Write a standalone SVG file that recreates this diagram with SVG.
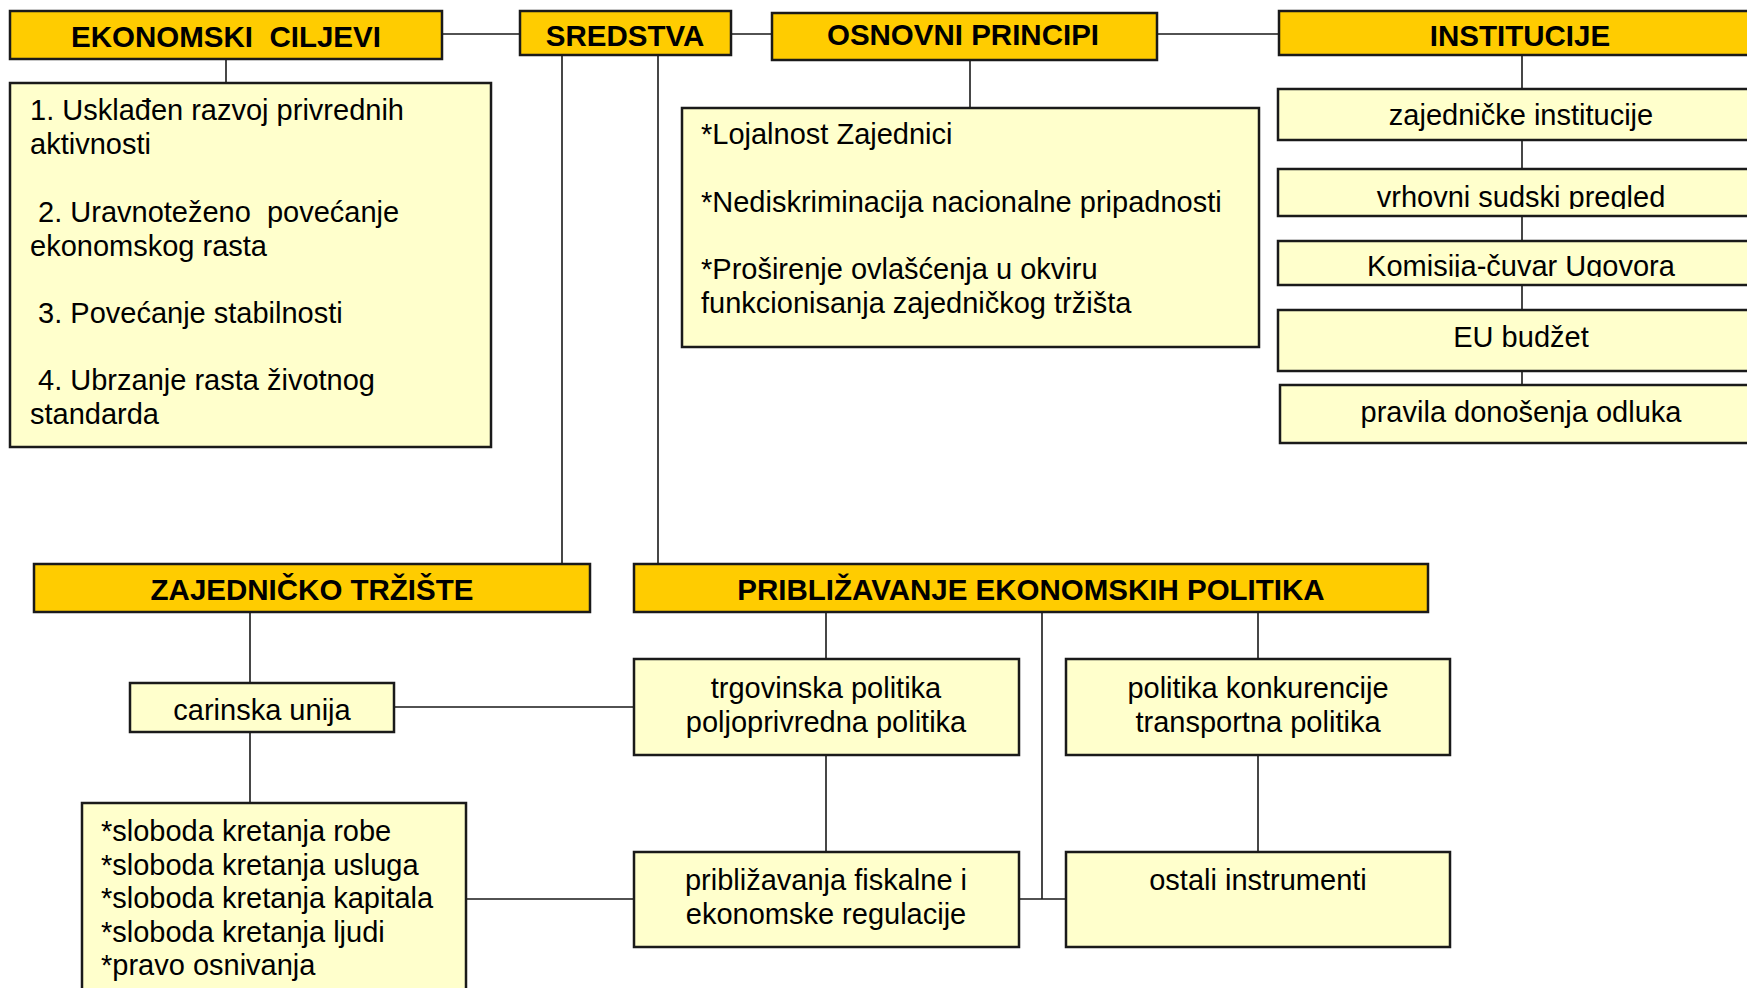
<svg xmlns="http://www.w3.org/2000/svg" width="1747" height="988" viewBox="0 0 1747 988">
<style>
.h{fill:#FFCC00;stroke:#1a1a1a;stroke-width:2.5}
.b{fill:#FFFFCC;stroke:#1a1a1a;stroke-width:2.5}
.c{stroke:#1a1a1a;stroke-width:1.6;fill:none}
text{font-family:"Liberation Sans",Arial,sans-serif;font-size:29px;fill:#000;white-space:pre}
.ht{font-weight:bold;text-anchor:middle;font-size:29.5px}
.m{text-anchor:middle}
</style>
<defs>
<clipPath id="cv"><rect x="1278" y="169" width="480" height="40"/></clipPath>
<clipPath id="ck"><rect x="1278" y="241" width="480" height="36"/></clipPath>
</defs>
<rect width="1747" height="988" fill="#fff"/>
<g id="connectors">
<path class="c" d="M442 34H520M731 34H772M1157 34H1279"/>
<path class="c" d="M226 59V83"/>
<path class="c" d="M562 55V564M658 55V564"/>
<path class="c" d="M970 60V108"/>
<path class="c" d="M1522 55V89M1522 139V169M1522 216V241M1522 285V310M1522 371V385"/>
<path class="c" d="M250 612V683M250 732V803"/>
<path class="c" d="M395 707H634M466 899H634"/>
<path class="c" d="M826 612V659M826 755V852M1258 612V659M1258 755V852M1042 612V899M1019 899H1066"/>
</g>
<g id="ekonomski-ciljevi"><rect class="h" x="10" y="11" width="432" height="48"/><text class="ht" x="226" y="47" xml:space="preserve">EKONOMSKI  CILJEVI</text></g>
<g id="sredstva"><rect class="h" x="520" y="11" width="211" height="44"/><text class="ht" x="625" y="46">SREDSTVA</text></g>
<g id="osnovni-principi"><rect class="h" x="772" y="13" width="385" height="47"/><text class="ht" x="963" y="45">OSNOVNI PRINCIPI</text></g>
<g id="institucije"><rect class="h" x="1279" y="11" width="480" height="44"/><text class="ht" x="1520" y="46">INSTITUCIJE</text></g>
<g id="ciljevi-lista"><rect class="b" x="10" y="83" width="481" height="364"/>
<text x="30" y="120" xml:space="preserve">1. Usklađen razvoj privrednih</text>
<text x="30" y="154">aktivnosti</text>
<text x="30" y="222" xml:space="preserve"> 2. Uravnoteženo  povećanje</text>
<text x="30" y="256">ekonomskog rasta</text>
<text x="30" y="323" xml:space="preserve"> 3. Povećanje stabilnosti</text>
<text x="30" y="390" xml:space="preserve"> 4. Ubrzanje rasta životnog</text>
<text x="30" y="424">standarda</text></g>
<g id="principi-lista"><rect class="b" x="682" y="108" width="577" height="239"/>
<text x="701" y="144">*Lojalnost Zajednici</text>
<text x="701" y="212">*Nediskriminacija nacionalne pripadnosti</text>
<text x="701" y="279">*Proširenje ovlašćenja u okviru</text>
<text x="701" y="313">funkcionisanja zajedničkog tržišta</text></g>
<g id="zajednicke-institucije"><rect class="b" x="1278" y="89" width="480" height="51"/><text class="m" x="1521" y="125">zajedničke institucije</text></g>
<g id="vrhovni-sudski-pregled"><rect class="b" x="1278" y="169" width="480" height="47"/><text class="m" x="1521" y="207" clip-path="url(#cv)">vrhovni sudski pregled</text></g>
<g id="komisija"><rect class="b" x="1278" y="241" width="480" height="44"/><text class="m" x="1521" y="276" clip-path="url(#ck)">Komisija-čuvar Ugovora</text></g>
<g id="eu-budzet"><rect class="b" x="1278" y="310" width="480" height="61"/><text class="m" x="1521" y="347">EU budžet</text></g>
<g id="pravila"><rect class="b" x="1280" y="385" width="478" height="58"/><text class="m" x="1521" y="422">pravila donošenja odluka</text></g>
<g id="zajednicko-trziste"><rect class="h" x="34" y="564" width="556" height="48"/><text class="ht" x="312" y="600">ZAJEDNIČKO TRŽIŠTE</text></g>
<g id="priblizavanje"><rect class="h" x="634" y="564" width="794" height="48"/><text class="ht" x="1031" y="600">PRIBLIŽAVANJE EKONOMSKIH POLITIKA</text></g>
<g id="carinska-unija"><rect class="b" x="130" y="683" width="264" height="49"/><text class="m" x="262" y="720">carinska unija</text></g>
<g id="slobode"><rect class="b" x="82" y="803" width="384" height="200"/>
<text x="101" y="841">*sloboda kretanja robe</text>
<text x="101" y="875">*sloboda kretanja usluga</text>
<text x="101" y="908">*sloboda kretanja kapitala</text>
<text x="101" y="942">*sloboda kretanja ljudi</text>
<text x="101" y="975">*pravo osnivanja</text></g>
<g id="trgovinska"><rect class="b" x="634" y="659" width="385" height="96"/><text class="m" x="826" y="698">trgovinska politika</text><text class="m" x="826" y="732">poljoprivredna politika</text></g>
<g id="konkurencija"><rect class="b" x="1066" y="659" width="384" height="96"/><text class="m" x="1258" y="698">politika konkurencije</text><text class="m" x="1258" y="732">transportna politika</text></g>
<g id="fiskalne"><rect class="b" x="634" y="852" width="385" height="95"/><text class="m" x="826" y="890">približavanja fiskalne i</text><text class="m" x="826" y="924">ekonomske regulacije</text></g>
<g id="ostali"><rect class="b" x="1066" y="852" width="384" height="95"/><text class="m" x="1258" y="890">ostali instrumenti</text></g>
</svg>
